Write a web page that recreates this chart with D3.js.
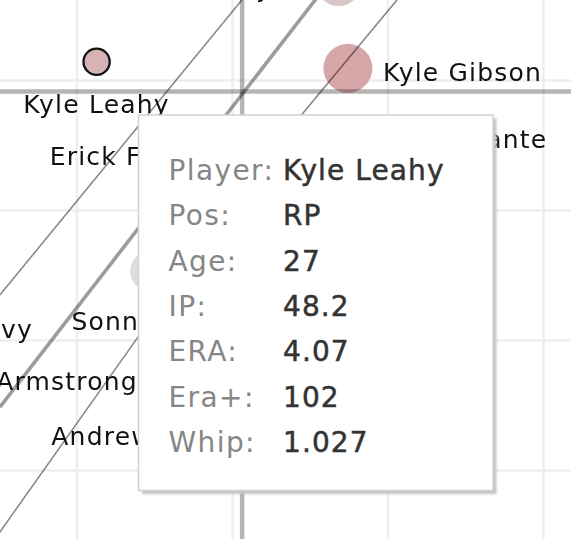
<!DOCTYPE html>
<html><head><meta charset="utf-8">
<script src="https://cdn.jsdelivr.net/npm/d3@7"></script>
<style>html,body{margin:0;padding:0;background:#fff;overflow:hidden}</style>
</head><body><svg id="chart" width="571" height="539"></svg>
<script>
// ---- data ----
const players = ["Kyle Leahy","Kyle Gibson","Lance Lynn","Sonny Gray","Erick Fedde","Michael McGreevy","Shawn Armstrong","Andrew Kittredge","Andre Pallante"];
const xValues = [3.063, 3.871, 3.841, 3.235, 3.502, 2.460, 3.281, 3.298, 3.777];
const yValues = [25.72, 25.47, 28.71, 17.67, 22.25, 17.15, 13.58, 13.04, 22.89];
const inningsPitched = [48.67, 169.67, 137, 113, 64, 64, 72.4, 64, 113];
const colorValues = [0.65, 0.85, 0.35, 0, 0.5, 0.5, 0.5, 0.5, 0.5];
const hovered = "Kyle Leahy";

const xTicks = [3.0, 3.5, 4.0, 4.5];
const yTicks = [10, 15, 20, 25];
const refX = 3.531;
const refY = 24.58;

const guideThinA = [[2.752, 16.75], [3.588, 28.94]];
const guideThickB = [[2.752, 12.44], [3.814, 28.84]];
const guideThinC = [[2.720, 7.10], [2.752, 7.635], [3.196, 15.13], [3.727, 23.75], [4.029, 28.10], [4.087, 28.94]];

const tooltipFields = ["Player:", "Pos:", "Age:", "IP:", "ERA:", "Era+:", "Whip:"];
const tooltipValues = ["Kyle Leahy", "RP", "27", "48.2", "4.07", "102", "1.027"];

// ---- drawing ----
const svg = d3.select("#chart");
const x = d3.scaleLinear().domain([3, 4.5]).range([77, 543.5]);
const y = d3.scaleLinear().domain([10, 25]).range([470.5, 80.5]);
const r = d3.scaleSqrt().domain([0, 200]).range([0, 26.6]);
const color = d3.scaleLinear().domain([0, 1]).range(["#dddddd", "#d69c9f"]).interpolate(d3.interpolateRgb);

const pts = players.map((p, i) => ({name: p, x: xValues[i], y: yValues[i], ip: inningsPitched[i], c: colorValues[i]}));
const labelSide = {"Kyle Leahy":"below","Kyle Gibson":"right","Lance Lynn":"left","Sonny Gray":"below","Erick Fedde":"left","Michael McGreevy":"below","Shawn Armstrong":"left","Andrew Kittredge":"below","Andre Pallante":"right"};

const grid = svg.append("g");
grid.selectAll("line.vx").data(xTicks).join("line")
  .attr("x1", d => x(d)).attr("x2", d => x(d)).attr("y1", 0).attr("y2", 539)
  .attr("stroke", "#eeeeee").attr("stroke-width", 2.5);
grid.selectAll("line.hy").data(yTicks).join("line")
  .attr("y1", d => y(d)).attr("y2", d => y(d)).attr("x1", 0).attr("x2", 571)
  .attr("stroke", "#eeeeee").attr("stroke-width", 2.5);

// marks
const marks = svg.append("g");
marks.selectAll("circle").data(pts).join("circle")
  .attr("cx", d => x(d.x)).attr("cy", d => y(d.y)).attr("r", d => r(d.ip))
  .attr("fill", d => color(d.c))
  .attr("stroke", d => d.name === hovered ? "#111" : "none")
  .attr("stroke-width", 2.3);

// reference & guide lines (multiply so crossings darken)
const lines = svg.append("g");
lines.append("line").attr("x1", x(refX)).attr("x2", x(refX)).attr("y1", 0).attr("y2", 539)
  .attr("stroke", "#b5b5b5").attr("stroke-width", 4.5).style("mix-blend-mode", "multiply");
lines.append("line").attr("y1", y(refY)).attr("y2", y(refY)).attr("x1", 0).attr("x2", 571)
  .attr("stroke", "#b5b5b5").attr("stroke-width", 4.5).style("mix-blend-mode", "multiply");
const lg = d3.line().x(d => x(d[0])).y(d => y(d[1]));
lines.append("path").attr("d", lg(guideThinA)).attr("fill", "none").attr("stroke", "#8a8a8a").attr("stroke-width", 1.6).style("mix-blend-mode", "multiply");
lines.append("path").attr("d", lg(guideThickB)).attr("fill", "none").attr("stroke", "#9c9c9c").attr("stroke-width", 3.6).style("mix-blend-mode", "multiply");
lines.append("path").attr("d", lg(guideThinC)).attr("fill", "none").attr("stroke", "#8a8a8a").attr("stroke-width", 1.6).style("mix-blend-mode", "multiply");

// labels
const labels = svg.append("g")
  .attr("font-family", "'DejaVu Sans', sans-serif").attr("font-size", 25)
  .style("letter-spacing", "1.2px").attr("fill", "#111");
pts.forEach(d => {
  const cx = x(d.x), cy = y(d.y), rr = r(d.ip), side = labelSide[d.name];
  const t = labels.append("text").text(d.name);
  if (side === "below") t.attr("x", cx).attr("y", cy + rr + 38.5).attr("text-anchor", "middle");
  else if (side === "right") t.attr("x", cx + rr + 10.5).attr("y", cy + 12.7).attr("text-anchor", "start");
  else t.attr("x", cx - rr - 10.5).attr("y", cy + 12.7).attr("text-anchor", "end");
});

// tooltip
const defs = svg.append("defs");
defs.append("filter").attr("id", "blur").attr("x", "-10%").attr("y", "-10%").attr("width", "120%").attr("height", "120%")
  .append("feGaussianBlur").attr("stdDeviation", 1.3);
const tip = svg.append("g");
const tx = 138.5, ty = 115, tw = 354.5, th = 375.5;
tip.append("rect").attr("x", tx + 3.5).attr("y", ty + 3.5).attr("width", tw).attr("height", th)
  .attr("fill", "#c4c4c4").attr("filter", "url(#blur)");
tip.append("rect").attr("x", tx).attr("y", ty).attr("width", tw).attr("height", th)
  .attr("fill", "#ffffff").attr("stroke", "#d2d2d2").attr("stroke-width", 1.5);
const tt = tip.append("g").attr("font-family", "'DejaVu Sans', sans-serif").attr("font-size", 28);
tt.selectAll("text.f").data(tooltipFields).join("text")
  .attr("x", 168.5).attr("y", (d, i) => 180 + i * 45.3).attr("fill", "#868686")
  .style("letter-spacing", "1.4px").text(d => d);
tt.selectAll("text.v").data(tooltipValues).join("text")
  .attr("x", 283).attr("y", (d, i) => 180 + i * 45.3).attr("fill", "#333333")
  .attr("stroke", "#333333").attr("stroke-width", 0.5).style("letter-spacing", "1.1px").text(d => d);
</script></body></html>
